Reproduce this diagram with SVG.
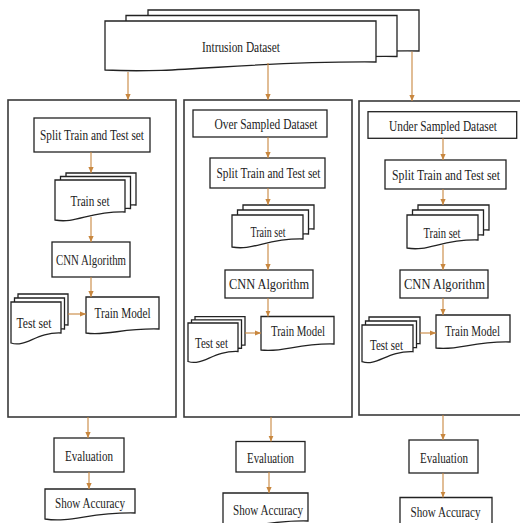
<svg xmlns="http://www.w3.org/2000/svg" xmlns:xlink="http://www.w3.org/1999/xlink" width="520" height="523" viewBox="0 0 520 523">
  <style>
    .box { fill: #fff; stroke: #222; stroke-width: 1.3; }
    .doc { fill: #fff; stroke: #222; stroke-width: 1.3; }
    .panel { fill: #fff; stroke: #3a3a3a; stroke-width: 1.6; }
    .lbl { font-family: "Liberation Serif", "Times New Roman", serif; font-size: 15px; fill: #222; text-anchor: middle; }
    .flow { stroke: #c8873f; stroke-width: 1.1; fill: none; marker-end: url(#arr); }
  </style>
  <defs>
    <marker id="arr" markerUnits="userSpaceOnUse" markerWidth="6" markerHeight="6" viewBox="0 0 6 6" refX="6" refY="3" orient="auto">
      <path d="M0,0.4 L6,3 L0,5.6 Z" fill="#c8873f"/>
    </marker>
    <!-- document shapes reused for stacked sheets -->
    <path id="dsTop" d="M105,70 C186,74 240,61 376,62 V21 H105 Z"/>
    <path id="trainL" d="M55,220 C76,224 90,211 125,212 V180 H55 Z"/>
    <path id="testL" d="M11,343 C26,348 36,332 61,333 V302 H11 Z"/>
    <path id="trainM" d="M232,247 C253,251 267,238 303,239 V215 H232 Z"/>
    <path id="testM" d="M188,361.5 C203,366.5 213,350.5 238,351.5 V323 H188 Z"/>
    <path id="trainR" d="M407,248 C428,252 442,239 478,240 V215 H407 Z"/>
    <path id="testR" d="M362,361.7 C377,366.7 387,350.7 413,351.7 V325 H362 Z"/>
  </defs>

  <!-- source dataset -->
  <g id="intrusion-dataset">
    <use xlink:href="#dsTop" class="doc" transform="translate(43,-11)"/>
    <use xlink:href="#dsTop" class="doc" transform="translate(21,-5.5)"/>
    <use xlink:href="#dsTop" class="doc"/>
    <text class="lbl" x="241" y="52" textLength="78" lengthAdjust="spacingAndGlyphs">Intrusion Dataset</text>
  </g>

  <!-- three processing panels -->
  <g id="panel-original"><rect class="panel" x="8" y="100" width="168" height="317"/></g>
  <g id="panel-over"><rect class="panel" x="184" y="100" width="168" height="317"/></g>
  <g id="panel-under"><rect class="panel" x="359" y="101" width="168" height="314"/></g>

  <!-- left column -->
  <g id="split-l">
    <rect class="box" x="34" y="118" width="116" height="34"/>
    <text class="lbl" x="92" y="140" textLength="104" lengthAdjust="spacingAndGlyphs">Split Train and Test set</text>
  </g>
  <g id="trainset-l">
    <use xlink:href="#trainL" class="doc" transform="translate(11,-7)"/>
    <use xlink:href="#trainL" class="doc" transform="translate(5.5,-3.5)"/>
    <use xlink:href="#trainL" class="doc"/>
    <text class="lbl" x="90" y="206" textLength="39" lengthAdjust="spacingAndGlyphs">Train set</text>
  </g>
  <g id="cnn-l">
    <rect class="box" x="52" y="242" width="78" height="35"/>
    <text class="lbl" x="91" y="265" textLength="70" lengthAdjust="spacingAndGlyphs">CNN Algorithm</text>
  </g>
  <g id="testset-l">
    <use xlink:href="#testL" class="doc" transform="translate(7,-8)"/>
    <use xlink:href="#testL" class="doc" transform="translate(3.5,-4)"/>
    <use xlink:href="#testL" class="doc"/>
    <text class="lbl" x="34" y="328" textLength="35" lengthAdjust="spacingAndGlyphs">Test set</text>
  </g>
  <g id="model-l">
    <path class="doc" d="M86,333 C108,336 122,328 159,329 V297 H86 Z"/>
    <text class="lbl" x="122.5" y="318" textLength="56" lengthAdjust="spacingAndGlyphs">Train Model</text>
  </g>
  <g id="eval-l">
    <rect class="box" x="54" y="438" width="70" height="34"/>
    <text class="lbl" x="89" y="461" textLength="48" lengthAdjust="spacingAndGlyphs">Evaluation</text>
  </g>
  <g id="acc-l">
    <path class="doc" d="M45,519 C72,523 90,512 135,513 V489 H45 Z"/>
    <text class="lbl" x="90" y="508" textLength="70" lengthAdjust="spacingAndGlyphs">Show Accuracy</text>
  </g>

  <!-- middle column -->
  <g id="over-sampled">
    <rect class="box" x="193" y="110" width="134" height="27"/>
    <text class="lbl" x="266" y="129" textLength="103" lengthAdjust="spacingAndGlyphs">Over Sampled Dataset</text>
  </g>
  <g id="split-m">
    <rect class="box" x="210" y="158" width="115" height="30"/>
    <text class="lbl" x="268.5" y="178" textLength="104" lengthAdjust="spacingAndGlyphs">Split Train and Test set</text>
  </g>
  <g id="trainset-m">
    <use xlink:href="#trainM" class="doc" transform="translate(11,-10)"/>
    <use xlink:href="#trainM" class="doc" transform="translate(5.5,-5)"/>
    <use xlink:href="#trainM" class="doc"/>
    <text class="lbl" x="268" y="237" textLength="35" lengthAdjust="spacingAndGlyphs">Train set</text>
  </g>
  <g id="cnn-m">
    <rect class="box" x="225" y="270" width="88" height="28"/>
    <text class="lbl" x="269" y="289" textLength="80" lengthAdjust="spacingAndGlyphs">CNN Algorithm</text>
  </g>
  <g id="testset-m">
    <use xlink:href="#testM" class="doc" transform="translate(7,-6.4)"/>
    <use xlink:href="#testM" class="doc" transform="translate(3.5,-3.2)"/>
    <use xlink:href="#testM" class="doc"/>
    <text class="lbl" x="211.5" y="348" textLength="33" lengthAdjust="spacingAndGlyphs">Test set</text>
  </g>
  <g id="model-m">
    <path class="doc" d="M261,350 C283,353 297.5,343 334,344 V316.5 H261 Z"/>
    <text class="lbl" x="298" y="336" textLength="54" lengthAdjust="spacingAndGlyphs">Train Model</text>
  </g>
  <g id="eval-m">
    <rect class="box" x="236" y="441.5" width="69" height="30.5"/>
    <text class="lbl" x="270.5" y="463" textLength="47" lengthAdjust="spacingAndGlyphs">Evaluation</text>
  </g>
  <g id="acc-m">
    <path class="doc" d="M223,527 C248.5,530 265.5,520 308,521 V493 H223 Z"/>
    <text class="lbl" x="268" y="515" textLength="70" lengthAdjust="spacingAndGlyphs">Show Accuracy</text>
  </g>

  <!-- right column -->
  <g id="under-sampled">
    <rect class="box" x="368" y="111.7" width="148.7" height="26.6"/>
    <text class="lbl" x="443" y="131" textLength="108" lengthAdjust="spacingAndGlyphs">Under Sampled Dataset</text>
  </g>
  <g id="split-r">
    <rect class="box" x="385" y="160" width="121" height="29"/>
    <text class="lbl" x="446" y="180" textLength="108" lengthAdjust="spacingAndGlyphs">Split Train and Test set</text>
  </g>
  <g id="trainset-r">
    <use xlink:href="#trainR" class="doc" transform="translate(11,-10)"/>
    <use xlink:href="#trainR" class="doc" transform="translate(5.5,-5)"/>
    <use xlink:href="#trainR" class="doc"/>
    <text class="lbl" x="442" y="238" textLength="37" lengthAdjust="spacingAndGlyphs">Train set</text>
  </g>
  <g id="cnn-r">
    <rect class="box" x="400" y="270" width="88" height="28"/>
    <text class="lbl" x="444.5" y="289" textLength="81" lengthAdjust="spacingAndGlyphs">CNN Algorithm</text>
  </g>
  <g id="testset-r">
    <use xlink:href="#testR" class="doc" transform="translate(7,-8)"/>
    <use xlink:href="#testR" class="doc" transform="translate(3.5,-4)"/>
    <use xlink:href="#testR" class="doc"/>
    <text class="lbl" x="386.5" y="350" textLength="33" lengthAdjust="spacingAndGlyphs">Test set</text>
  </g>
  <g id="model-r">
    <path class="doc" d="M436,348 C458,351 473,341 510,342 V315 H436 Z"/>
    <text class="lbl" x="472.5" y="336" textLength="55" lengthAdjust="spacingAndGlyphs">Train Model</text>
  </g>
  <g id="eval-r">
    <rect class="box" x="409" y="440" width="69" height="33"/>
    <text class="lbl" x="444" y="463" textLength="48" lengthAdjust="spacingAndGlyphs">Evaluation</text>
  </g>
  <g id="acc-r">
    <path class="doc" d="M400,530 C428,533 446,523 492,524 V497.5 H400 Z"/>
    <text class="lbl" x="445.5" y="516.5" textLength="70" lengthAdjust="spacingAndGlyphs">Show Accuracy</text>
  </g>

  <!-- connectors -->
  <g id="connectors">
    <line class="flow" x1="128" y1="72" x2="128" y2="100"/>
    <line class="flow" x1="268" y1="63" x2="268" y2="100"/>
    <line class="flow" x1="412" y1="51.5" x2="412" y2="101"/>

    <line class="flow" x1="91" y1="152" x2="91" y2="173"/>
    <line class="flow" x1="91" y1="217" x2="91" y2="242"/>
    <line class="flow" x1="91" y1="277" x2="91" y2="297"/>
    <line class="flow" x1="68" y1="314" x2="86" y2="314"/>
    <line class="flow" x1="88" y1="417" x2="88" y2="438"/>
    <line class="flow" x1="89" y1="472" x2="89" y2="489"/>

    <line class="flow" x1="268" y1="137" x2="268" y2="158"/>
    <line class="flow" x1="268" y1="188" x2="268" y2="205"/>
    <line class="flow" x1="268" y1="244" x2="268" y2="270"/>
    <line class="flow" x1="268" y1="298" x2="268" y2="316.5"/>
    <line class="flow" x1="245" y1="333" x2="261" y2="333"/>
    <line class="flow" x1="271" y1="417" x2="271" y2="441.5"/>
    <line class="flow" x1="269" y1="472" x2="269" y2="493"/>

    <line class="flow" x1="443" y1="138.3" x2="443" y2="160"/>
    <line class="flow" x1="443" y1="189" x2="443" y2="205"/>
    <line class="flow" x1="443" y1="245" x2="443" y2="270"/>
    <line class="flow" x1="443" y1="298" x2="443" y2="315"/>
    <line class="flow" x1="420" y1="333" x2="436" y2="333"/>
    <line class="flow" x1="443" y1="415" x2="443" y2="440"/>
    <line class="flow" x1="443" y1="473" x2="443" y2="497.5"/>
  </g>
</svg>
